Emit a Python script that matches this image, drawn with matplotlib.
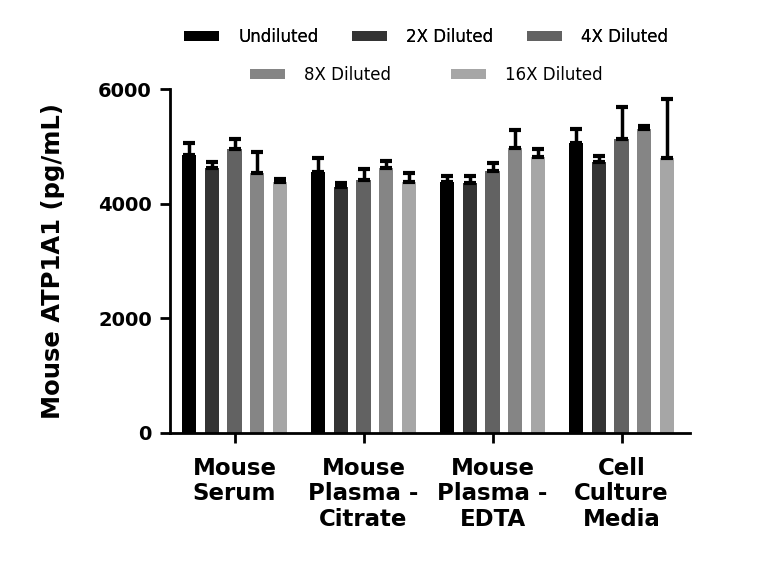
import matplotlib
matplotlib.use("Agg")
import matplotlib.pyplot as plt
import numpy as np
from matplotlib.patches import Patch

categories = ["Mouse\nSerum", "Mouse\nPlasma -\nCitrate", "Mouse\nPlasma -\nEDTA", "Cell\nCulture\nMedia"]
series = ["Undiluted", "2X Diluted", "4X Diluted", "8X Diluted", "16X Diluted"]
values = [
    [4860, 4560, 4380, 5070],   # Undiluted
    [4620, 4300, 4365, 4735],   # 2X
    [4950, 4420, 4580, 5140],   # 4X
    [4540, 4630, 4970, 5300],   # 8X
    [4390, 4390, 4815, 4810],   # 16X
]
errors = [
    [210, 245, 115, 230],
    [120, 65, 115, 95],
    [175, 185, 130, 555],
    [370, 115, 325, 60],
    [45, 150, 150, 1025],
]
colors = ["#000000", "#343434", "#626262", "#858585", "#a6a6a6"]
yticks = [0, 2000, 4000, 6000]

plt.rcParams['font.family'] = ['DejaVu Sans']
fig = plt.figure(figsize=(7.68, 5.68), dpi=100)
ax = fig.add_axes([0.2214, 0.2377, 0.677, 0.605])

x = np.arange(len(categories))
pitch = 0.176
width = 0.111
for i, (name, vals, errs, c) in enumerate(zip(series, values, errors, colors)):
    pos = x + (i - 2) * pitch
    ax.bar(pos, vals, width=width, color=c, label=name, zorder=2)
    ax.errorbar(pos, vals, yerr=[np.zeros(len(errs)), errs], fmt='none',
                ecolor='black', elinewidth=2.5, capsize=4, capthick=3, zorder=3)

ax.set_xlim(-0.5, 3.53)
ax.set_ylim(0, 6000)
ax.set_yticks(yticks)
ax.set_yticklabels([str(t) for t in yticks], fontsize=14, fontweight='bold')
ax.set_xticks(x)
ax.set_xticklabels(categories, fontsize=16.5, fontweight='bold', linespacing=1.15)
ax.set_ylabel("Mouse ATP1A1 (pg/mL)", fontsize=17.5, fontweight='bold', labelpad=24)
for s in ['top', 'right']:
    ax.spines[s].set_visible(False)
for s in ['left', 'bottom']:
    ax.spines[s].set_linewidth(2)
ax.tick_params(axis='both', width=2, length=7, direction='out')
ax.tick_params(axis='y', pad=6)
ax.tick_params(axis='x', pad=10)

handles = [Patch(facecolor=c) for c in colors]
leg1 = fig.legend(handles[:3], series[:3], loc='center', bbox_to_anchor=(0.555, 1 - 37/568),
                  ncol=3, frameon=False, fontsize=12, handlelength=2.1, handleheight=0.48,
                  handletextpad=1.16, columnspacing=2.0)
leg2 = fig.legend(handles[3:], series[3:], loc='center', bbox_to_anchor=(0.555, 1 - 75/568),
                  ncol=2, frameon=False, fontsize=12, handlelength=2.1, handleheight=0.48,
                  handletextpad=1.16, columnspacing=3.6)
fig.add_artist(leg1)

fig.savefig("out.png", dpi=100)
